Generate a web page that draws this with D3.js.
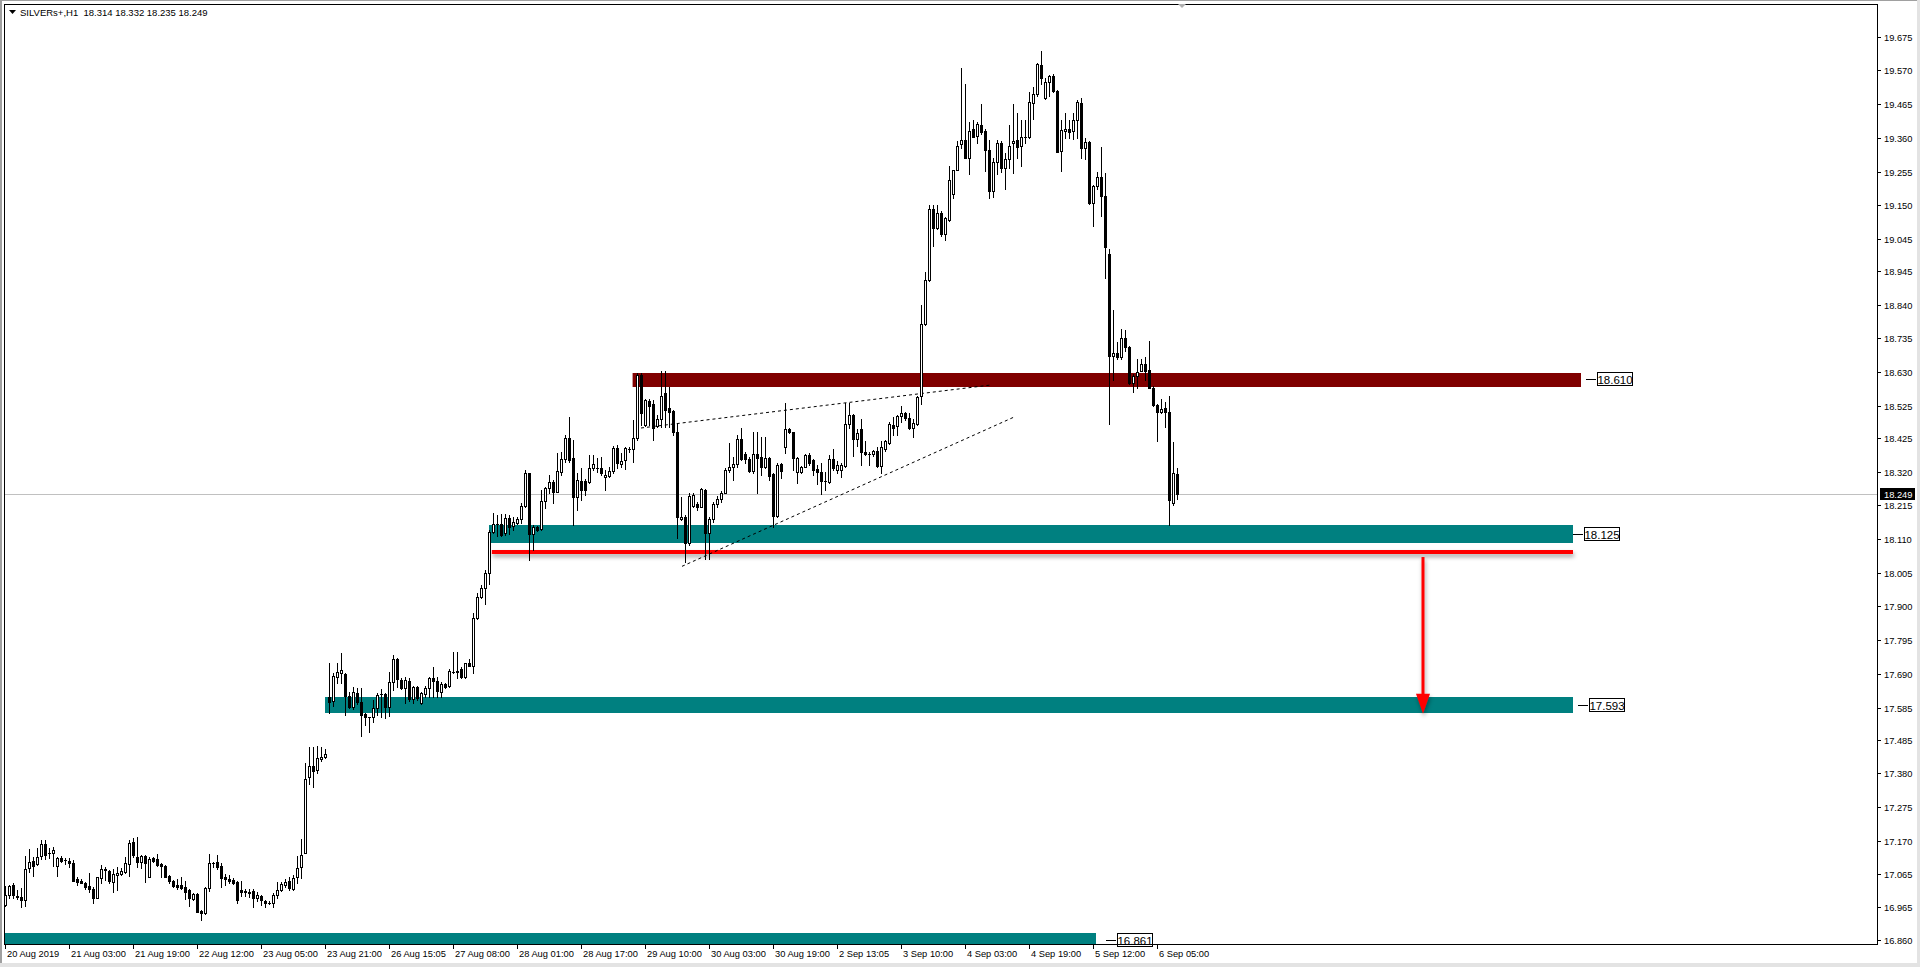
<!DOCTYPE html>
<html><head><meta charset="utf-8">
<script src="https://cdn.jsdelivr.net/npm/d3@7"></script>
<style>
html,body{margin:0;padding:0;background:#fff;overflow:hidden}
svg{display:block}
text{font-family:"Liberation Sans",Arial,sans-serif;white-space:pre}
</style></head><body>
<svg id="c" width="1920" height="967"></svg>
<script>
// ---------------- DATA ----------------
const symbol = "SILVERs+,H1";
const lastBar = [18.314, 18.332, 18.235, 18.249];

const opens = [16.970,17.001,17.032,16.998,16.994,16.986,17.084,17.106,17.097,17.123,17.159,17.131,17.131,17.090,17.116,17.110,17.107,17.100,17.050,17.045,
17.040,17.029,17.021,16.991,17.053,17.082,17.077,17.043,17.062,17.067,17.074,17.097,17.165,17.119,17.105,17.123,17.058,17.116,17.112,17.098,
17.090,17.061,17.045,17.032,17.032,17.027,17.017,16.989,17.004,16.951,16.946,17.022,17.100,17.105,17.090,17.058,17.051,17.048,17.043,17.017,
17.009,17.011,17.014,16.993,16.998,16.983,16.975,16.975,17.001,17.017,17.032,17.045,17.019,17.056,17.087,17.131,17.370,17.403,17.389,17.425,
17.430,17.617,17.604,17.681,17.692,17.690,17.621,17.586,17.630,17.602,17.565,17.555,17.555,17.583,17.628,17.628,17.588,17.664,17.735,17.671,
17.645,17.669,17.611,17.650,17.598,17.626,17.647,17.676,17.668,17.635,17.659,17.652,17.697,17.697,17.704,17.681,17.723,17.716,17.863,17.928,
17.959,18.005,18.133,18.156,18.156,18.128,18.175,18.152,18.159,18.172,18.213,18.315,18.125,18.149,18.140,18.229,18.268,18.289,18.258,18.320,
18.358,18.424,18.362,18.240,18.292,18.292,18.289,18.330,18.330,18.330,18.302,18.307,18.322,18.393,18.344,18.356,18.391,18.390,18.424,18.621,
18.465,18.540,18.530,18.462,18.483,18.564,18.517,18.509,18.445,18.172,18.180,18.099,18.214,18.219,18.211,18.263,18.130,18.172,18.219,18.234,
18.255,18.325,18.334,18.343,18.421,18.374,18.358,18.322,18.374,18.367,18.336,18.362,18.312,18.182,18.344,18.396,18.452,18.442,18.320,18.320,
18.336,18.372,18.355,18.328,18.320,18.292,18.288,18.358,18.326,18.326,18.337,18.467,18.495,18.422,18.452,18.382,18.374,18.374,18.385,18.337,
18.390,18.410,18.465,18.463,18.492,18.503,18.487,18.457,18.467,18.556,18.779,18.916,19.139,19.079,19.125,19.061,19.104,19.184,19.261,19.340,
19.354,19.297,19.388,19.366,19.399,19.382,19.321,19.195,19.286,19.344,19.267,19.294,19.344,19.354,19.333,19.362,19.362,19.470,19.496,19.586,
19.484,19.533,19.552,19.505,19.319,19.380,19.388,19.380,19.417,19.468,19.328,19.347,19.157,19.210,19.238,19.180,18.999,18.680,18.691,18.677,
18.735,18.709,18.596,18.619,18.635,18.656,18.638,18.582,18.528,18.505,18.517,18.505,18.223,18.314];

const highs = [17.029,17.032,17.038,17.017,17.022,17.123,17.144,17.121,17.147,17.173,17.173,17.147,17.150,17.121,17.123,17.116,17.116,17.110,17.058,17.050,
17.043,17.069,17.027,17.058,17.095,17.088,17.079,17.081,17.087,17.084,17.121,17.173,17.178,17.181,17.126,17.126,17.118,17.118,17.128,17.102,
17.095,17.064,17.048,17.050,17.058,17.045,17.019,17.007,17.007,16.955,17.025,17.129,17.105,17.126,17.100,17.067,17.064,17.053,17.045,17.045,
17.019,17.019,17.019,17.009,17.001,16.986,16.981,17.007,17.041,17.043,17.050,17.058,17.064,17.123,17.175,17.412,17.463,17.463,17.465,17.463,
17.456,17.723,17.692,17.723,17.754,17.692,17.635,17.650,17.647,17.647,17.567,17.557,17.609,17.630,17.642,17.630,17.695,17.749,17.738,17.676,
17.681,17.676,17.652,17.652,17.635,17.652,17.679,17.710,17.681,17.666,17.663,17.704,17.757,17.757,17.711,17.725,17.735,17.881,17.941,17.967,
18.014,18.138,18.192,18.185,18.188,18.188,18.185,18.178,18.180,18.221,18.325,18.317,18.154,18.152,18.263,18.273,18.310,18.294,18.377,18.382,
18.434,18.491,18.419,18.315,18.330,18.296,18.372,18.372,18.362,18.365,18.325,18.336,18.400,18.403,18.377,18.396,18.396,18.481,18.626,18.626,
18.545,18.545,18.543,18.497,18.632,18.632,18.585,18.512,18.471,18.242,18.185,18.253,18.253,18.227,18.268,18.265,18.180,18.224,18.244,18.261,
18.330,18.408,18.367,18.434,18.455,18.382,18.367,18.442,18.445,18.429,18.429,18.367,18.315,18.346,18.346,18.533,18.455,18.445,18.367,18.338,
18.374,18.377,18.358,18.342,18.347,18.320,18.371,18.390,18.353,18.347,18.535,18.535,18.500,18.452,18.485,18.414,18.380,18.388,18.396,18.417,
18.420,18.474,18.489,18.498,18.524,18.506,18.503,18.485,18.556,18.839,18.943,19.152,19.150,19.152,19.133,19.114,19.272,19.261,19.350,19.576,
19.527,19.409,19.415,19.409,19.465,19.388,19.354,19.297,19.352,19.349,19.312,19.401,19.465,19.438,19.417,19.417,19.502,19.517,19.593,19.630,
19.547,19.557,19.559,19.509,19.414,19.438,19.417,19.438,19.477,19.484,19.359,19.351,19.214,19.254,19.330,19.249,19.014,18.823,18.723,18.765,
18.762,18.712,18.623,18.670,18.670,18.678,18.726,18.586,18.530,18.547,18.536,18.557,18.412,18.332];

const lows = [16.967,16.993,16.991,16.989,16.963,16.967,17.074,17.061,17.095,17.112,17.112,17.116,17.090,17.061,17.105,17.098,17.087,17.045,17.032,17.038,
17.019,17.009,16.977,16.991,17.040,17.048,17.040,17.009,17.017,17.062,17.069,17.061,17.121,17.087,17.084,17.043,17.058,17.105,17.090,17.056,
17.056,17.040,17.025,17.019,17.019,16.988,16.968,16.986,16.949,16.923,16.942,17.015,17.087,17.081,17.027,17.032,17.038,17.035,16.977,16.998,
16.998,16.996,16.965,16.981,16.970,16.965,16.972,16.965,16.991,17.014,17.025,17.017,17.017,17.038,17.053,17.131,17.346,17.339,17.380,17.420,
17.427,17.569,17.590,17.661,17.661,17.562,17.583,17.582,17.595,17.495,17.531,17.510,17.541,17.562,17.557,17.552,17.559,17.640,17.650,17.644,
17.598,17.604,17.598,17.609,17.596,17.619,17.619,17.617,17.619,17.619,17.647,17.650,17.692,17.676,17.676,17.676,17.713,17.692,17.860,17.926,
17.907,17.970,18.128,18.118,18.120,18.123,18.126,18.138,18.157,18.159,18.211,18.045,18.076,18.136,18.138,18.206,18.255,18.221,18.258,18.310,
18.351,18.351,18.154,18.199,18.232,18.247,18.284,18.325,18.320,18.310,18.263,18.302,18.315,18.330,18.336,18.327,18.382,18.351,18.419,18.465,
18.462,18.465,18.419,18.460,18.460,18.460,18.460,18.434,18.112,18.170,18.040,18.092,18.211,18.199,18.211,18.047,18.047,18.164,18.211,18.227,
18.253,18.320,18.294,18.336,18.356,18.346,18.320,18.315,18.253,18.310,18.330,18.294,18.149,18.180,18.299,18.377,18.439,18.325,18.286,18.317,
18.334,18.341,18.310,18.281,18.249,18.264,18.285,18.324,18.315,18.302,18.335,18.455,18.369,18.401,18.342,18.371,18.342,18.369,18.335,18.315,
18.385,18.406,18.433,18.433,18.474,18.481,18.452,18.428,18.465,18.530,18.776,18.914,19.023,19.077,19.053,19.042,19.100,19.171,19.259,19.329,
19.297,19.248,19.361,19.345,19.372,19.257,19.171,19.176,19.248,19.254,19.202,19.265,19.249,19.296,19.273,19.344,19.359,19.420,19.491,19.528,
19.480,19.491,19.502,19.317,19.256,19.359,19.359,19.357,19.359,19.296,19.294,19.154,19.084,19.202,19.117,18.923,18.467,18.607,18.670,18.670,
18.696,18.593,18.568,18.580,18.633,18.607,18.580,18.523,18.417,18.502,18.459,18.154,18.217,18.235];

const closes = [17.001,17.029,17.001,16.994,16.986,17.081,17.103,17.093,17.121,17.159,17.126,17.131,17.142,17.116,17.108,17.110,17.102,17.045,17.043,17.040,
17.027,17.021,16.991,17.056,17.081,17.079,17.046,17.067,17.071,17.076,17.100,17.164,17.126,17.105,17.123,17.100,17.112,17.108,17.095,17.090,
17.058,17.045,17.030,17.025,17.024,17.012,16.993,17.004,16.949,16.944,17.022,17.100,17.102,17.087,17.055,17.050,17.046,17.038,16.986,17.012,
17.015,17.007,16.991,17.001,16.986,16.975,16.975,17.001,17.017,17.035,17.043,17.024,17.055,17.084,17.126,17.362,17.403,17.386,17.427,17.430,
17.441,17.601,17.684,17.697,17.702,17.621,17.588,17.633,17.601,17.562,17.557,17.555,17.583,17.623,17.628,17.586,17.664,17.735,17.675,17.645,
17.671,17.611,17.650,17.614,17.630,17.647,17.676,17.669,17.638,17.658,17.650,17.699,17.697,17.700,17.679,17.723,17.715,17.863,17.928,17.957,
18.005,18.133,18.156,18.156,18.123,18.175,18.149,18.164,18.172,18.213,18.315,18.125,18.147,18.138,18.229,18.268,18.289,18.258,18.322,18.358,
18.424,18.356,18.240,18.294,18.263,18.263,18.330,18.344,18.330,18.315,18.310,18.322,18.393,18.346,18.354,18.393,18.391,18.424,18.621,18.502,
18.543,18.523,18.455,18.483,18.556,18.512,18.507,18.445,18.180,18.180,18.099,18.244,18.247,18.211,18.265,18.130,18.172,18.219,18.234,18.255,
18.325,18.334,18.343,18.421,18.358,18.358,18.322,18.374,18.362,18.336,18.362,18.307,18.182,18.341,18.323,18.452,18.442,18.362,18.362,18.336,
18.372,18.346,18.326,18.320,18.292,18.292,18.358,18.331,18.342,18.342,18.467,18.495,18.422,18.439,18.382,18.374,18.374,18.385,18.337,18.396,
18.414,18.467,18.457,18.492,18.503,18.487,18.457,18.471,18.551,18.779,18.916,19.139,19.079,19.125,19.061,19.109,19.229,19.259,19.336,19.354,
19.297,19.382,19.364,19.402,19.379,19.321,19.195,19.286,19.345,19.267,19.294,19.336,19.349,19.330,19.362,19.362,19.472,19.496,19.589,19.547,
19.533,19.552,19.505,19.317,19.383,19.388,19.378,19.417,19.472,19.328,19.347,19.157,19.210,19.238,19.180,19.020,18.680,18.691,18.677,18.735,
18.709,18.596,18.619,18.631,18.654,18.633,18.582,18.528,18.505,18.515,18.505,18.231,18.315,18.249];

const dateLabels = ["20 Aug 2019","21 Aug 03:00","21 Aug 19:00","22 Aug 12:00","23 Aug 05:00","23 Aug 21:00","26 Aug 15:05","27 Aug 08:00",
"28 Aug 01:00","28 Aug 17:00","29 Aug 10:00","30 Aug 03:00","30 Aug 19:00","2 Sep 13:05","3 Sep 10:00","4 Sep 03:00","4 Sep 19:00","5 Sep 12:00","6 Sep 05:00"];
const barsPerDateLabel = 16;

const priceTicks = ["19.675","19.570","19.465","19.360","19.255","19.150","19.045","18.945","18.840","18.735","18.630","18.525","18.425","18.320",
"18.215","18.110","18.005","17.900","17.795","17.690","17.585","17.485","17.380","17.275","17.170","17.065","16.965","16.860"];

// zones: price range, bar range, label text, bar at which label box is anchored
const zoneLow   = [18.585, 18.098, 17.568, 16.850];
const zoneHigh  = [18.626, 18.154, 17.618, 16.883];
const zoneFrom  = [156.9, 121.0, 80.0, -2];
const zoneTo    = [394.0, 392.0, 392.0, 272.75];
const zoneLabel = ["18.610", "18.125", "17.593", "16.861"];
const zoneLabelAt = [398.0, 394.75, 396.0, 278.0];
const zoneColor = ["#800000", "#008080", "#008080", "#008080"];

const breakLine = {price: 18.070, from: 121.7, to: 392.0};
const targetArrow = {bar: 354.5, fromPrice: 18.054, toPrice: 17.566};
const trendLines = [
  {x1: 159.0, p1: 18.456, x2: 246.5, p2: 18.590},
  {x1: 169.25, p1: 18.025, x2: 252.25, p2: 18.490}
];

// ---------------- LAYOUT ----------------
const W = 1920, H = 967;
const plot = {left: 4, top: 4, right: 1877, bottom: 944};
const svg = d3.select("#c");
const N = opens.length;

const x = d3.scaleLinear().domain([0, N - 1]).range([5, 5 + 4 * (N - 1)]);
const y = d3.scaleLinear().domain([16.860, 19.675]).range([940.3, 36.7]);

const defs = svg.append("defs");
defs.append("clipPath").attr("id", "plotclip").append("rect")
  .attr("x", plot.left + 1).attr("y", plot.top + 1)
  .attr("width", plot.right - plot.left - 1).attr("height", plot.bottom - plot.top - 1);
const sh = defs.append("filter").attr("id", "shadow").attr("filterUnits", "userSpaceOnUse")
  .attr("x", 0).attr("y", 0).attr("width", W).attr("height", H);
sh.append("feDropShadow").attr("dx", 1).attr("dy", 3).attr("stdDeviation", 2.2).attr("flood-color", "#000").attr("flood-opacity", 0.35);

// window background / frame
svg.append("rect").attr("width", W).attr("height", H).attr("fill", "#fff");
svg.append("rect").attr("x", 0).attr("y", 0).attr("width", W).attr("height", 1).attr("fill", "#a0a0a0");
svg.append("rect").attr("x", 0).attr("y", 0).attr("width", 2).attr("height", H).attr("fill", "#a0a0a0");
svg.append("rect").attr("x", 1917).attr("y", 0).attr("width", 3).attr("height", H).attr("fill", "#e3e3e3");
svg.append("rect").attr("x", 0).attr("y", 963).attr("width", W).attr("height", 4).attr("fill", "#e3e3e3");

const g = svg.append("g").attr("clip-path", "url(#plotclip)");

// last price line
g.append("line").attr("x1", plot.left).attr("x2", plot.right)
  .attr("y1", Math.round(y(lastBar[3])) + 0.5).attr("y2", Math.round(y(lastBar[3])) + 0.5)
  .attr("stroke", "#c0c0c0").attr("stroke-width", 1);

// zones
const zones = zoneLow.map((lo, k) => ({lo, hi: zoneHigh[k], from: zoneFrom[k], to: zoneTo[k], label: zoneLabel[k], at: zoneLabelAt[k], color: zoneColor[k]}));
g.selectAll("rect.zone").data(zones).join("rect").attr("class", "zone")
  .attr("x", d => x(d.from)).attr("width", d => x(d.to) - x(d.from))
  .attr("y", d => Math.round(y(d.hi))).attr("height", d => Math.round(y(d.lo)) - Math.round(y(d.hi)))
  .attr("fill", d => d.color);

// break line (red) with shadow
g.append("rect").attr("x", x(breakLine.from)).attr("width", x(breakLine.to) - x(breakLine.from))
  .attr("y", Math.round(y(breakLine.price)) - 2).attr("height", 4)
  .attr("fill", "#ff0000").attr("filter", "url(#shadow)");

// trend lines (dotted)
g.selectAll("line.trend").data(trendLines).join("line").attr("class", "trend")
  .attr("x1", d => x(d.x1)).attr("y1", d => y(d.p1)).attr("x2", d => x(d.x2)).attr("y2", d => y(d.p2))
  .attr("stroke", "#000").attr("stroke-width", 1).attr("stroke-dasharray", "3,3");

// candles
const bars = d3.range(N).map(i => ({i, o: opens[i], h: highs[i], l: lows[i], c: closes[i]}));
const cx = d => Math.round(x(d.i));
g.selectAll("rect.wick").data(bars).join("rect").attr("class", "wick")
  .attr("x", cx).attr("width", 1)
  .attr("y", d => Math.round(y(d.h)))
  .attr("height", d => Math.max(1, Math.round(y(d.l)) - Math.round(y(d.h)) + 1))
  .attr("fill", "#000");
bars.forEach(d => {
  const top = Math.round(y(Math.max(d.o, d.c))), bot = Math.round(y(Math.min(d.o, d.c)));
  const c0 = cx(d);
  if (d.c > d.o && bot - top >= 2) {
    g.append("rect").attr("x", c0 - 0.5).attr("y", top + 0.5).attr("width", 2).attr("height", bot - top)
      .attr("fill", "#fff").attr("stroke", "#000").attr("stroke-width", 1);
  } else {
    g.append("rect").attr("x", c0 - 1).attr("y", top).attr("width", 3).attr("height", Math.max(1, bot - top + 1))
      .attr("fill", "#000");
  }
});

// target arrow
const ax = x(targetArrow.bar);
const aTip = y(targetArrow.toPrice);
const arrowG = svg.append("g").attr("filter", "url(#shadow)");
arrowG.append("rect").attr("x", ax - 1.5).attr("width", 3).attr("y", y(targetArrow.fromPrice)).attr("height", aTip - 14 - y(targetArrow.fromPrice))
  .attr("fill", "#ff0000");
arrowG.append("path").attr("d", `M${ax - 7},${aTip - 20} L${ax + 7},${aTip - 20} L${ax},${aTip} Z`).attr("fill", "#ff0000");

// zone labels
zones.forEach(d => {
  const bx = Math.round(x(d.at)), by = Math.round(y(+d.label));
  svg.append("line").attr("x1", bx - 11).attr("x2", bx - 1).attr("y1", by + 0.5).attr("y2", by + 0.5)
    .attr("stroke", "#000").attr("stroke-width", 1);
  svg.append("rect").attr("x", bx + 0.5).attr("y", by - 6.5).attr("width", 35).attr("height", 13)
    .attr("fill", "#fff").attr("stroke", "#000").attr("stroke-width", 1);
  svg.append("text").attr("x", bx + 18).attr("y", by + 4.5).attr("text-anchor", "middle")
    .attr("font-size", 11.5).attr("fill", "#000").text(d.label);
});

// frame
svg.append("rect").attr("x", plot.left + 0.5).attr("y", plot.top + 0.5)
  .attr("width", plot.right - plot.left).attr("height", plot.bottom - plot.top)
  .attr("fill", "none").attr("stroke", "#000").attr("stroke-width", 1);

// price axis
const pt = svg.append("g");
priceTicks.forEach(t => {
  const yy = Math.round(y(+t)) + 0.5;
  pt.append("line").attr("x1", plot.right).attr("x2", plot.right + 4).attr("y1", yy).attr("y2", yy).attr("stroke", "#000");
  pt.append("text").attr("x", plot.right + 7).attr("y", yy + 3.5).attr("font-size", 9.3).attr("fill", "#000").text(t);
});
// current price label
const ly = Math.round(y(lastBar[3]));
svg.append("rect").attr("x", plot.right + 3).attr("y", ly - 6).attr("width", 35).attr("height", 12).attr("fill", "#000");
svg.append("text").attr("x", plot.right + 7).attr("y", ly + 3.5).attr("font-size", 9.3).attr("fill", "#fff").text(lastBar[3].toFixed(3));

// date axis
dateLabels.forEach((t, k) => {
  const xx = Math.round(x(k * barsPerDateLabel)) + 0.5;
  svg.append("line").attr("x1", xx).attr("x2", xx).attr("y1", plot.bottom).attr("y2", plot.bottom + 5).attr("stroke", "#000");
  svg.append("text").attr("x", xx + 1.5).attr("y", plot.bottom + 13).attr("font-size", 9.3).attr("fill", "#000").text(t);
});

// title
svg.append("path").attr("d", "M9,10 L16,10 L12.5,14 Z").attr("fill", "#000");
svg.append("text").attr("x", 20).attr("y", 16).attr("font-size", 9.5).attr("fill", "#000")
  .text(symbol + "  " + lastBar.map(v => v.toFixed(3)).join(" "));

// chart shift marker
const sx = Math.round(x(N - 1)) + 5;
svg.append("path").attr("d", `M${sx - 4},4 L${sx + 4},4 L${sx},8 Z`).attr("fill", "#b0b0b0");
</script>
</body></html>
